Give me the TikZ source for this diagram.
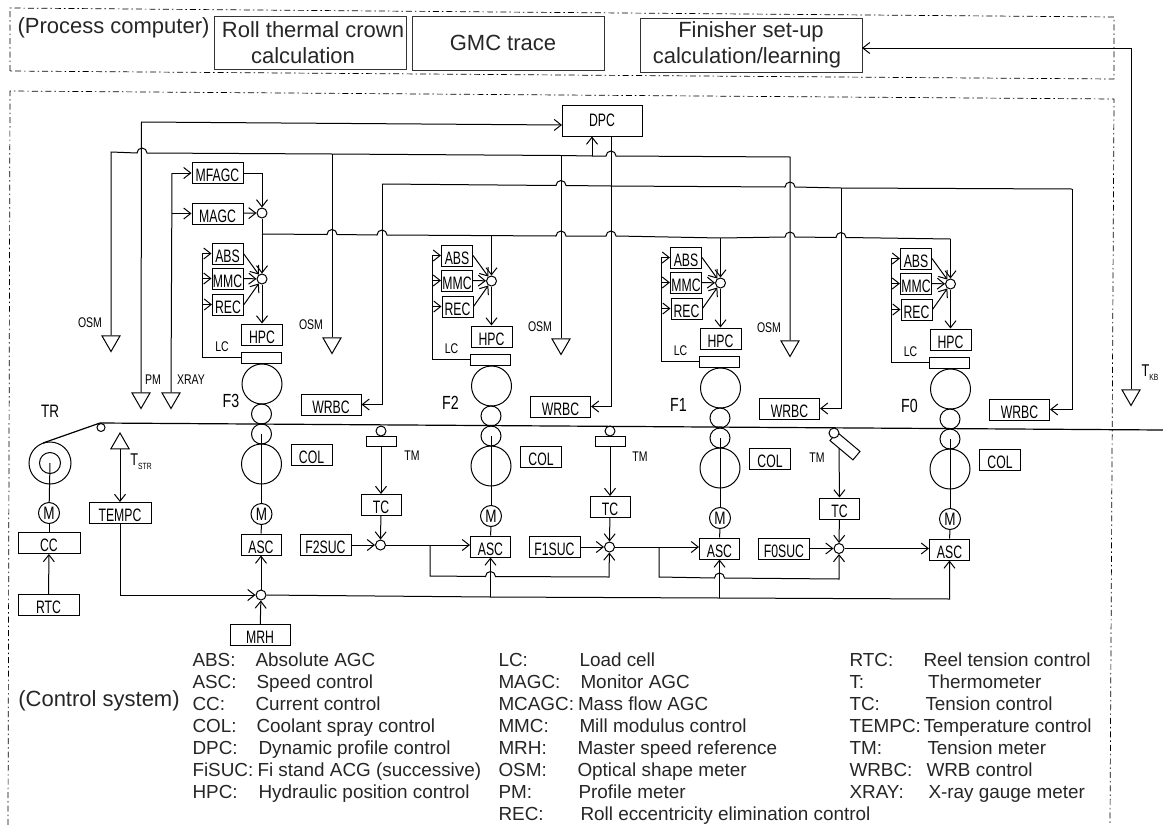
\documentclass[tikz,border=0pt]{standalone}
\usepackage{fontspec}
\usepackage{tikz}
\usetikzlibrary{arrows.meta,shapes.geometric}
\setmainfont{Liberation Sans}
\newfontfamily\gothic[FakeStretch=0.75]{Liberation Sans}
\newfontfamily\boxfont[FakeStretch=0.68]{Liberation Sans}
\newcommand{\hop}[1]{-- ([xshift=-5pt]#1) arc[start angle=180,end angle=0,radius=5pt]}

\begin{document}
\begin{tikzpicture}[x=1pt,y=-1pt,line width=1pt,>={Straight Barb[length=7pt,width=11pt]},
    ctrl/.style={draw,inner sep=0pt,minimum width=#1,minimum height=21pt,text height=19pt,text depth=1.5pt,font=\boxfont\fontsize{18}{18}\selectfont},
    plate/.style={draw,inner sep=0pt,minimum width=40pt,minimum height=11pt},
    roll/.style={draw,circle,inner sep=0pt,minimum size=#1},
    tag/.style={inner sep=0pt,font=\gothic\fontsize{14}{14}\selectfont},
    stand/.style={inner sep=0pt,font=\gothic\fontsize{19}{19}\selectfont},
    meter/.style={draw,regular polygon,regular polygon sides=3,inner sep=0pt,minimum size=21pt,shape border rotate=#1},
    zone/.style={line width=0.7pt,dash pattern=on 6pt off 3pt on 1.5pt off 3pt},
    big/.style={inner sep=0pt,text=black!85,align=center,font=\fontsize{22}{26}\selectfont},
    calc/.style={draw=black!80,line width=0.9pt,text=black!85,inner sep=0pt,align=center,font=\fontsize{22}{26}\selectfont},
    leg/.style={inner sep=0pt,anchor=base west,text=black!85,font=\fontsize{18.9}{19}\selectfont}]
  \useasboundingbox (0,0) rectangle (1163,825);

  % process computer
  \draw [zone] (10,71) -- (10,8) -- (1114,17) -- (1114,79) -- cycle;
  \node [big] (PC) at (113.5,28) {(Process computer)};
  \node [calc,minimum width=192pt,minimum height=53pt] (RTCC) at (310,42.5) {\hspace*{6pt}Roll thermal crown\\\hspace*{-14pt}calculation};
  \node [calc,minimum width=192pt,minimum height=54pt] (GMC) at (508,43) {\hspace*{-10pt}GMC trace};
  \node [calc,minimum width=222pt,minimum height=54pt] (FSC) at (751,45) {Finisher set-up\\\hspace*{-8pt}calculation/learning};

  % control system
  \draw [zone] (8,825) -- (10,91) -- (1114,99) -- (1110,825);
  \node [big] (CS) at (99,701) {(Control system)};

  % stands
  \foreach \n/\dx/\dy/\lab/\fx in {3/0/0/F3/231,2/229.5/2/F2/221,1/458.5/4/F1/220,0/688.5/5/F0/221} {
    \begin{scope}[shift={(\dx,\dy)}]
      \node [ctrl=31pt] (ABS\n) at (227.5,253.5) {ABS};
      \node [ctrl=31pt] (MMC\n) at (227.5,278.5) {MMC};
      \node [ctrl=31pt] (REC\n) at (228,304.5) {REC};
      \node [roll=10pt] (HS\n) at (262,279) {};
      \node [ctrl=41pt] (HPC\n) at (262,334.5) {HPC};
      \node [plate] (LC\n) at (261,357.5) {};
      \node [tag] (LT\n) at (222,347) {LC};
      \node [roll=40pt] (BU\n) at (262,384) {};
      \node [roll=20pt] (SU\n) at (261.5,414) {};
      \node [roll=20pt] (SL\n) at (261.5,434) {};
      \node [roll=40pt] (BL\n) at (261.5,464) {};
      \node [roll=21pt,font=\gothic\fontsize{18}{18}\selectfont] (M\n) at (261.5,514) {M};
      \node [ctrl=40pt] (ASC\n) at (261,544.5) {ASC};
      \node [ctrl=41pt] (COL\n) at (311.5,454.5) {COL};
      \node [ctrl=60pt] (WRBC\n) at (331,404.5) {WRBC};
      \node [stand] (F\n) at (\fx,401) {\lab};
      \coordinate (tap\n) at (262,234);
      \coordinate (fb\n) at (202.5,253.5);
    \end{scope}
    \draw [->] (tap\n) -- (HS\n);
    \draw [->] (HS\n) -- (HPC\n);
    \draw [->] (LC\n.west) -| (fb\n) -- (ABS\n.west);
    \draw [->] (fb\n |- MMC\n.west) -- (MMC\n.west);
    \draw [->] (fb\n |- REC\n.west) -- (REC\n.west);
    \draw [->] (ABS\n.east) -- (HS\n);
    \draw [->] (MMC\n.east) -- (HS\n);
    \draw [->] (REC\n.east) -- (HS\n);
    \draw (SL\n.center) -- (M\n);
    \draw (M\n) -- (ASC\n);
  }

  % first stand, gauge side
  \node [ctrl=51pt] (MFAGC) at (217.5,173) {MFAGC};
  \node [ctrl=51pt] (MAGC) at (217.5,213.5) {MAGC};
  \node [roll=10pt] (HM) at (262,213) {};
  \draw [->] (MFAGC.east) -| (HM);
  \draw [->] (MAGC) -- (HM);
  \draw (HM) -- (tap3);

  % meters above the strip
  \node [meter=180] (OSM3) at (111,341) {};
  \node [meter=180] (OSM2) at (332,343) {};
  \node [meter=180] (OSM1) at (561,344) {};
  \node [meter=180] (OSM0) at (790,346) {};
  \node [meter=180] (PM) at (141,398) {};
  \node [meter=180] (XRAY) at (171,398) {};
  \node [meter=180] (TKB) at (1131,395) {};
  \node [tag] (O3) at (90,323) {OSM};
  \node [tag] (O2) at (311,325) {OSM};
  \node [tag] (O1) at (540,327) {OSM};
  \node [tag] (O0) at (769,328) {OSM};
  \node [tag] (PT) at (153,380) {PM};
  \node [tag] (XT) at (191,380) {XRAY};
  \node [tag,font=\gothic\fontsize{17}{17}\selectfont] (KT) at (1150,373) {T\raisebox{-4pt}{\fontsize{9}{9}\selectfont KB}};
  \node [ctrl=80pt,text height=12pt,text depth=0pt,minimum height=31pt] (DPC) at (602,120.5) {DPC};

  % buses
  \coordinate (pm) at (141.5,122);
  \coordinate (dpcin) at (562,125);
  \coordinate (a3) at (111,152);
  \coordinate (ah) at (142,153);
  \coordinate (a2) at (332,154);
  \coordinate (a1) at (561,155.5);
  \coordinate (ad) at (592,156);
  \coordinate (ap) at (611,156);
  \coordinate (a0) at (790,157);
  \coordinate (wr3) at (382,184);
  \coordinate (ch1) at (561,185.5);
  \coordinate (wr2) at (611,186);
  \coordinate (ch0) at (790,187);
  \coordinate (wr1) at (841,188);
  \coordinate (wr0) at (1072,189);
  \coordinate (bh2) at (332,234.5);
  \coordinate (bw3) at (382,235);
  \coordinate (bh1) at (561,236);
  \coordinate (bw2) at (611,236);
  \coordinate (bh0) at (790,237);
  \coordinate (bw1) at (841,237.5);
  \coordinate (xr) at (172,173);
  \draw [->] (PM.north) -- (pm) -- (dpcin);
  \draw (OSM3.north) -- (a3) \hop{ah} -- (a2) -- (a1) -- (ad) \hop{ap} -- (a0) -- (OSM0.north);
  \draw (a2) -- (OSM2.north);
  \draw (a1) -- (OSM1.north);
  \draw [->] (ad) -- (ad |- DPC.south);
  \draw (wr3) \hop{ch1} -- (wr2) \hop{ch0} -- (wr1) -- (wr0);
  \draw (wr2 |- DPC.south) -- (wr2);
  \draw (tap3) \hop{bh2} \hop{bw3} \hop{bh1} \hop{bw2} -- (tap1) \hop{bh0} \hop{bw1} -- (tap0);
  \foreach \n in {3,2,1,0} {
    \draw [->] (wr\n) |- (WRBC\n.east);
  }
  \draw (XRAY.north) -- (xr);
  \draw [->] (xr) -- (MFAGC.west);
  \draw [->] (xr |- MAGC.west) -- (MAGC.west);
  \coordinate (fin) at (862,48);
  \draw [->] (TKB.north) |- (fin);

  % strip and coiler
  \coordinate (tr0) at (43,443);
  \coordinate (tr1) at (100,423);
  \coordinate (tr2) at (1163,430);
  \draw [line width=1.2pt] (tr0) -- (tr1) -- (tr2);
  \node [roll=8pt] (DEF) at (101,427.5) {};
  \node [roll=42pt] (CO) at (50,463) {};
  \node [roll=21pt] (CI) at (50,463) {};
  \node [stand,font=\gothic\fontsize{18}{18}\selectfont] (TR) at (50,411) {TR};
  \node [roll=21pt,font=\gothic\fontsize{18}{18}\selectfont] (MC) at (49,513) {M};
  \node [ctrl=62pt] (CC) at (49,543) {CC};
  \node [ctrl=61pt] (RTC) at (48.5,605) {RTC};
  \draw (CO.center) -- (MC);
  \draw (MC) -- (CC);
  \draw [->] (RTC) -- (CC);

  % temperature and master reference
  \node [meter=0] (TS) at (120,443.5) {};
  \node [tag,font=\gothic\fontsize{17}{17}\selectfont] (ST) at (141,462) {T\raisebox{-4pt}{\fontsize{9}{9}\selectfont STR}};
  \node [ctrl=62pt] (TEMPC) at (120,513) {TEMPC};
  \node [roll=10pt] (SM) at (261,595) {};
  \node [ctrl=60pt] (MRH) at (260,635) {MRH};
  \draw [->] (TS.south) -- (TEMPC);
  \draw [->] (TEMPC.south) |- (SM);
  \draw [->] (MRH) -- (SM);
  \draw [->] (SM) -- (ASC3);

  % tension loops
  \foreach \n/\dx/\dy/\lab in {2/0/0/F2SUC,1/229/2/F1SUC,0/458.5/3.5/F0SUC} {
    \begin{scope}[shift={(\dx,\dy)}]
      \node [ctrl=40pt] (TC\n) at (381,505) {TC};
      \node [roll=10pt] (SS\n) at (380.5,545) {};
      \node [ctrl=51pt] (SUC\n) at (325.5,545) {\lab};
    \end{scope}
    \draw [->] (TC\n) -- (SS\n);
    \draw [->] (SUC\n) -- (SS\n);
    \draw [->] (SS\n) -- (ASC\n.west |- SS\n);
  }
  \node [roll=10pt] (TR2) at (381,431) {};
  \node [plate,minimum width=30pt,minimum height=10pt] (TB2) at (381,441) {};
  \node [tag] (TT2) at (412,456) {TM};
  \node [roll=10pt] (TR1) at (610,431) {};
  \node [plate,minimum width=30pt,minimum height=10pt] (TB1) at (610,441) {};
  \node [tag] (TT1) at (640,457) {TM};
  \node [plate,minimum width=30pt,minimum height=11pt,rotate=-40] (TB0) at (845,446) {};
  \node [roll=10pt,fill=white] (TR0) at (834,433) {};
  \node [tag] (TT0) at (817,458) {TM};
  \coordinate (tm2) at (381,446);
  \coordinate (tm1) at (610,446);
  \coordinate (tm0) at (839,448);
  \foreach \n in {2,1,0} {
    \draw [->] (tm\n) -- (TC\n.north);
  }

  % speed reference lines
  \coordinate (b2) at (490.5,597);
  \coordinate (b1) at (719.5,598);
  \coordinate (b0) at (949.5,599);
  \coordinate (j2) at (430,546);
  \coordinate (k2) at (430,576);
  \coordinate (h2) at (490.5,576.5);
  \coordinate (e2) at (609,577);
  \coordinate (j1) at (659,548);
  \coordinate (k1) at (659,577);
  \coordinate (h1) at (719.5,578);
  \coordinate (e1) at (839,579);
  \draw [->] (SM) -- (b2) -- (b1) -- (b0) -- (ASC0.south);
  \draw [->] (b2) -- (ASC2.south);
  \draw [->] (b1) -- (ASC1.south);
  \draw [->] (j2) -- (k2) \hop{h2} -- (e2) -- (SS1);
  \draw [->] (j1) -- (k1) \hop{h1} -- (e1) -- (SS0);

  % key
  \foreach \c/\xk/\xd/\yl/\k/\d in {
      a/192/255/666.5/ABS:/Absolute AGC,
      b/192/256/688.5/ASC:/Speed control,
      c/192/255/710/CC:/Current control,
      d/192/256/732/COL:/Coolant spray control,
      e/192/258/754/DPC:/Dynamic profile control,
      f/192/257/776/FiSUC:/Fi stand ACG (successive),
      g/192/258/798/HPC:/Hydraulic position control,
      h/498/579/666.5/LC:/Load cell,
      i/498/580/688.5/MAGC:/Monitor AGC,
      j/498/577.5/710/MCAGC:/Mass flow AGC,
      k/498/579/732/MMC:/Mill modulus control,
      l/498/577/754/MRH:/Master speed reference,
      m/498/577/776/OSM:/Optical shape meter,
      n/498/578/798/PM:/Profile meter,
      o/498/580/820/REC:/Roll eccentricity elimination control,
      p/849/923/666.5/RTC:/Reel tension control,
      q/849/927.5/688.5/T:/Thermometer,
      r/849/925/710/TC:/Tension control,
      s/849/923/732/TEMPC:/Temperature control,
      t/849/927/754/TM:/Tension meter,
      u/849/926/776/WRBC:/WRB control,
      v/849/928/798/XRAY:/X-ray gauge meter} {
    \node [leg] (K\c) at (\xk,\yl) {\k};
    \node [leg] (D\c) at (\xd,\yl) {\d};
  }
\end{tikzpicture}
\end{document}
